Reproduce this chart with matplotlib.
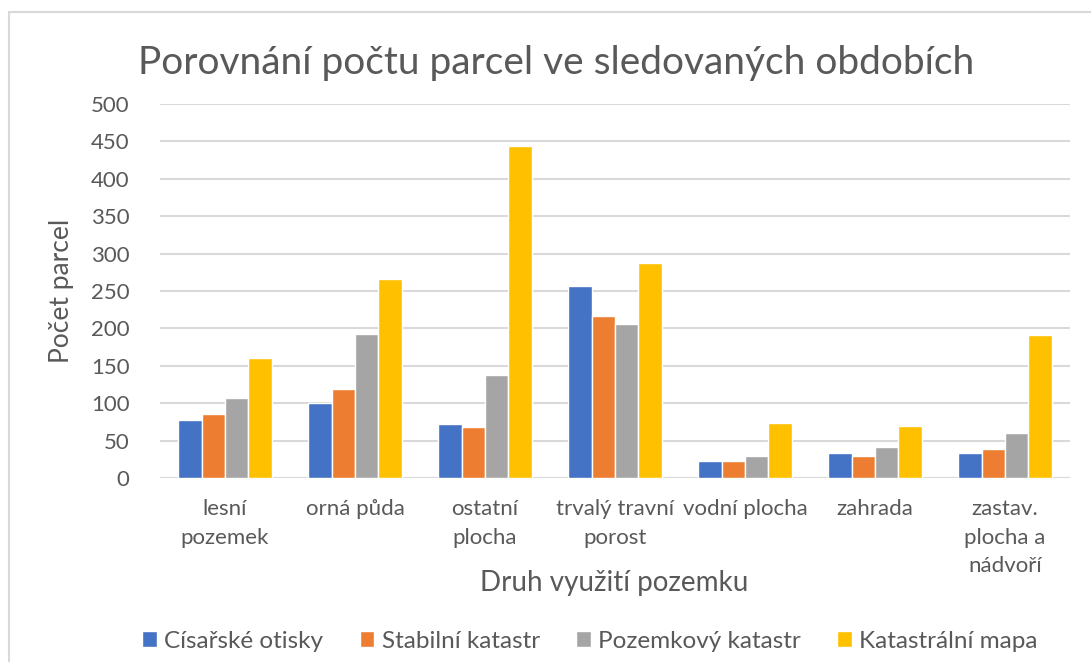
import matplotlib
matplotlib.use("Agg")
import matplotlib.pyplot as plt
import numpy as np
from matplotlib.patches import Rectangle

# data
categories = ["lesní\npozemek", "orná půda", "ostatní\nplocha", "trvalý travní\nporost",
              "vodní plocha", "zahrada", "zastav.\nplocha a\nnádvoří"]
series_names = ["Císařské otisky", "Stabilní katastr", "Pozemkový katastr", "Katastrální mapa"]
cisarske = [78, 100, 72, 257, 23, 33, 33]
stabilni = [86, 119, 68, 216, 23, 29, 39]
pozemkovy = [107, 193, 138, 206, 29, 42, 60]
katastralni = [160, 266, 444, 287, 74, 70, 191]
colors = ["#4472C4", "#ED7D31", "#A5A5A5", "#FFC000"]
yticks = [0, 50, 100, 150, 200, 250, 300, 350, 400, 450, 500]

plt.rcParams['font.family'] = ['Lato', 'DejaVu Sans']
txt = "#595959"

fig = plt.figure(figsize=(10.91, 6.62), dpi=100)
W, H = 1091, 662
ax = fig.add_axes([160 / W, 1 - 478 / H, 910 / W, 374 / H])

x = np.arange(len(categories))
step = 0.18
values = [cisarske, stabilni, pozemkovy, katastralni]
for i, (vals, name, c) in enumerate(zip(values, series_names, colors)):
    ax.bar(x + (i - 1.5) * step, vals, width=step, color=c, edgecolor="white",
           linewidth=1, label=name, zorder=3)

ax.set_xlim(-0.5, len(categories) - 0.5)
ax.set_ylim(0, 500)
ax.set_yticks(yticks)
ax.yaxis.grid(True, color="#D9D9D9", linewidth=1.5, zorder=0)
ax.set_xticks(x)
ax.set_xticklabels(categories, color=txt, fontsize=16, linespacing=1.55)
ax.tick_params(axis="y", labelcolor=txt, labelsize=16, length=0, pad=22)
ax.tick_params(axis="x", length=0, pad=15)
for s in ax.spines.values():
    s.set_visible(False)
ax.axhline(0, color="#D9D9D9", linewidth=1.5, zorder=2)

ax.set_ylabel("Počet parcel", color=txt, fontsize=19, labelpad=12)
fig.text(614 / W, 1 - 583 / H, "Druh využití pozemku", color=txt, fontsize=20,
         ha="center", va="center")
fig.text(556 / W, 1 - 63 / H, "Porovnání počtu parcel ve sledovaných obdobích",
         color=txt, fontsize=28, ha="center", va="center")

leg = fig.legend(loc="center", bbox_to_anchor=(590 / W, 1 - 641 / H), ncol=4,
                 frameon=False, fontsize=17.5, handlelength=0.6, handleheight=0.6,
                 handletextpad=0.3, columnspacing=1.5)
for t in leg.get_texts():
    t.set_color(txt)

fig.patches.append(Rectangle((9 / W, -0.1), 1.2, 1 - 12 / H + 0.1, transform=fig.transFigure,
                             fill=False, edgecolor="#D9D9D9", linewidth=1.5))

fig.savefig("out.png", dpi=100)
